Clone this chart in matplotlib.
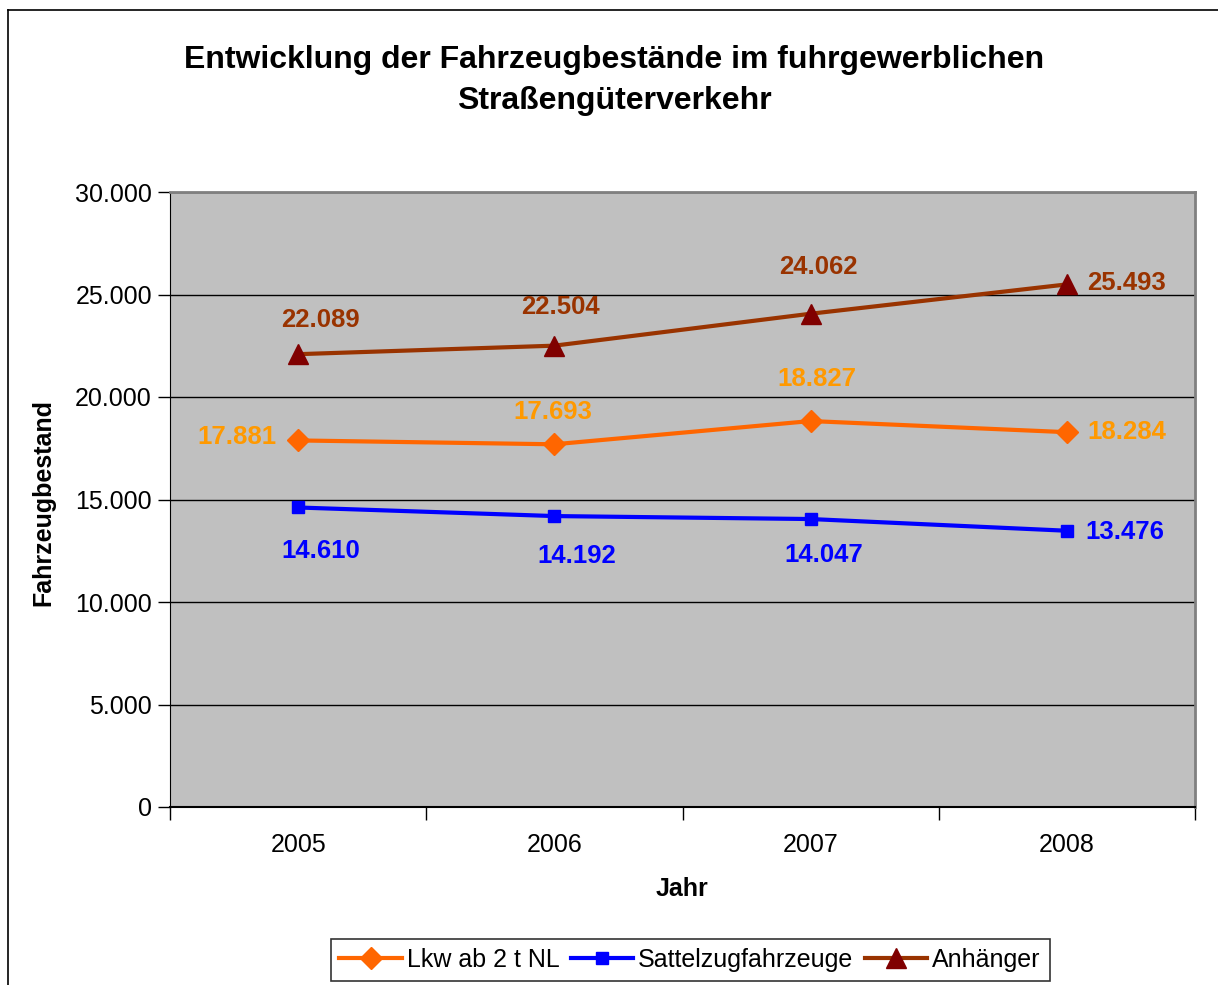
import matplotlib.pyplot as plt
from matplotlib.lines import Line2D
from matplotlib.ticker import FuncFormatter, FixedLocator

plt.rcParams['font.family'] = ['Liberation Sans', 'DejaVu Sans']

jahre = ['2005', '2006', '2007', '2008']
lkw = [17881, 17693, 18827, 18284]
sattel = [14610, 14192, 14047, 13476]
anhaenger = [22089, 22504, 24062, 25493]

W, H = 1218, 985
fig = plt.figure(figsize=(W / 100, H / 100), dpi=100)

# outer chart frame (runs off the right/bottom edge like the original)
fig.add_artist(Line2D([8 / W, 8 / W], [0, 1 - 10 / H], color='black', lw=1.2))
fig.add_artist(Line2D([8 / W, 1], [1 - 10 / H, 1 - 10 / H], color='black', lw=1.2))

ax = fig.add_axes([170 / W, 1 - 807 / H, 1025 / W, 615 / H])
ax.set_facecolor('#C0C0C0')
x = range(len(jahre))

ax.plot(x, lkw, color='#FF6600', lw=3, marker='D', ms=11, mfc='#FF6600', mec='#FF6600', zorder=3)
ax.plot(x, sattel, color='#0000FF', lw=3, marker='s', ms=8, mfc='#0000FF', mec='#0000FF', zorder=3)
ax.plot(x, anhaenger, color='#993300', lw=3, marker='^', ms=15, mfc='#800000', mec='#800000', zorder=3)

ax.set_xlim(-0.5, 3.5)
ax.set_ylim(0, 30000)
ax.set_yticks(range(0, 30001, 5000))
ax.yaxis.set_major_formatter(FuncFormatter(lambda v, p: f"{int(v):,}".replace(",", ".")))
ax.grid(axis='y', color='black', lw=1)
ax.set_axisbelow(True)

ax.set_xticks(list(x))
ax.set_xticklabels(jahre)
ax.tick_params(axis='x', which='major', length=0, labelsize=18, pad=19)
ax.xaxis.set_minor_locator(FixedLocator([-0.5, 0.5, 1.5, 2.5, 3.5]))
ax.tick_params(axis='x', which='minor', length=9, width=1, direction='out')
ax.tick_params(axis='y', length=9, width=1, labelsize=18, pad=4)

for s in ['top', 'right']:
    ax.spines[s].set_color('#808080')
    ax.spines[s].set_linewidth(2)
ax.spines['left'].set_color('black')
ax.spines['bottom'].set_color('black')
ax.spines['bottom'].set_linewidth(1.5)

# value labels: offsets in pixels
lab_font = dict(fontsize=18.5, fontweight='bold', ha='center', va='center')
off_anh = [(22, 34), (6, 39), (8, 47), (60, 1)]
off_lkw = [(-61, 3), (-2, 32), (6, 42), (60, 0)]
off_sat = [(23, -44), (22, -40), (13, -36), (58, -1)]
for i in x:
    ax.annotate(f"{anhaenger[i]:,}".replace(",", "."), (i, anhaenger[i]), xytext=off_anh[i],
                textcoords='offset pixels', color='#993300', **lab_font)
    ax.annotate(f"{lkw[i]:,}".replace(",", "."), (i, lkw[i]), xytext=off_lkw[i],
                textcoords='offset pixels', color='#FF9900', **lab_font)
    ax.annotate(f"{sattel[i]:,}".replace(",", "."), (i, sattel[i]), xytext=off_sat[i],
                textcoords='offset pixels', color='#0000FF', **lab_font)

fig.text(614 / W, 1 - 60 / H, 'Entwicklung der Fahrzeugbestände im fuhrgewerblichen',
         fontsize=23, fontweight='bold', ha='center', va='center')
fig.text(614 / W, 1 - 101 / H, 'Straßengüterverkehr',
         fontsize=23, fontweight='bold', ha='center', va='center')
fig.text(682 / W, 1 - 889 / H, 'Jahr', fontsize=18, fontweight='bold', ha='center', va='center')
fig.text(43 / W, 1 - 502 / H, 'Fahrzeugbestand', fontsize=18, fontweight='bold',
         ha='center', va='center', rotation=90)

handles = [
    Line2D([], [], color='#FF6600', lw=3, marker='D', ms=11, mfc='#FF6600', mec='#FF6600'),
    Line2D([], [], color='#0000FF', lw=3, marker='s', ms=8, mfc='#0000FF', mec='#0000FF'),
    Line2D([], [], color='#993300', lw=3, marker='^', ms=15, mfc='#800000', mec='#800000'),
]
leg = fig.legend(handles, ['Lkw ab 2 t NL', 'Sattelzugfahrzeuge', 'Anhänger'],
                 loc='center', bbox_to_anchor=(690 / W, 1 - 960 / H), ncol=3,
                 fontsize=18, frameon=True, fancybox=False, edgecolor='black',
                 handlelength=2.5, handletextpad=0.2, columnspacing=0.45,
                 borderpad=0.35)
leg.get_frame().set_linewidth(1.2)

fig.savefig('out.png', dpi=100)
